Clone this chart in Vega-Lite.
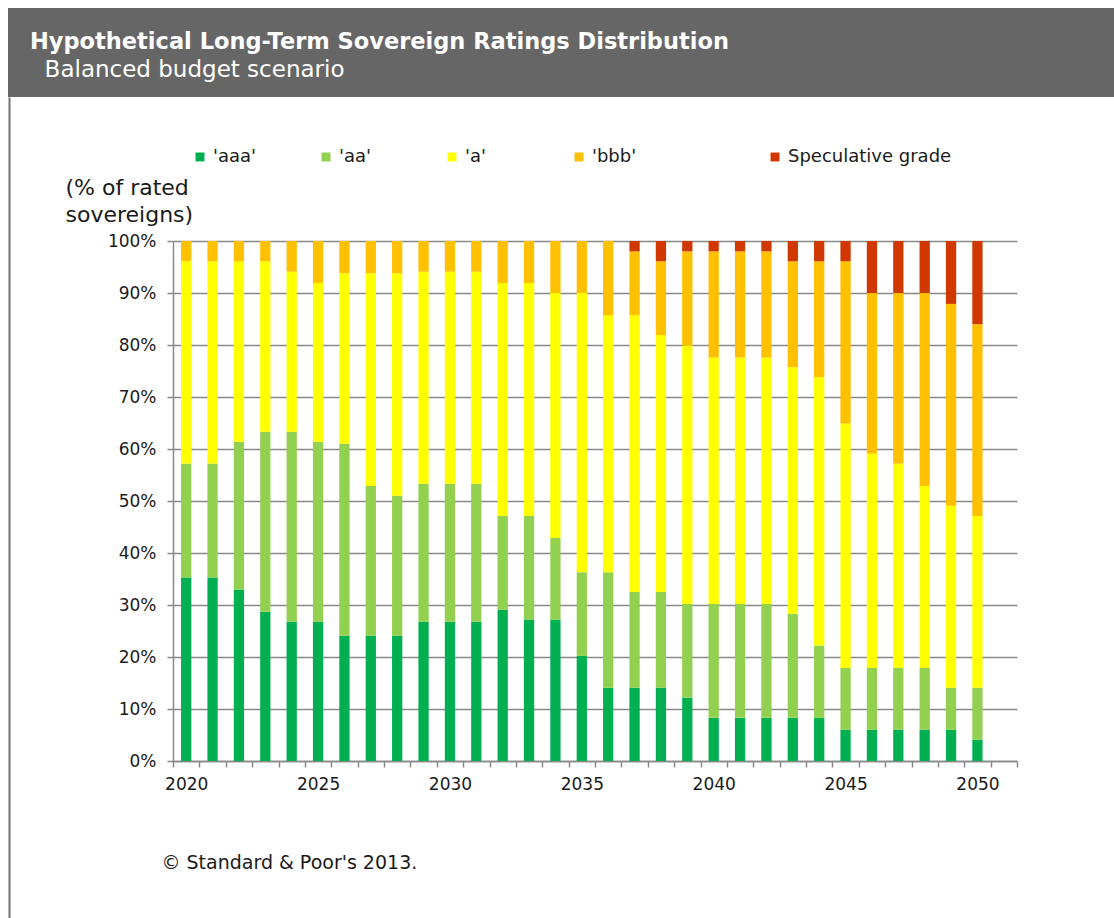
{
 "$schema": "https://vega.github.io/schema/vega-lite/v6.json",
 "padding": {"left": 6, "top": 8, "right": 0, "bottom": 0},
 "background": "white",
 "spacing": 0,
 "config": {"font": "DejaVu Sans", "view": {"stroke": null}},
 "resolve": {"scale": {"color": "independent", "y": "independent"}, "legend": {"color": "independent"}},
 "vconcat": [
  {
   "width": 1106, "height": 89,
   "data": {"values": [{}]},
   "mark": {"type": "rect", "color": "#666666"},
   "encoding": {},
   "title": {
     "text": "Hypothetical Long-Term Sovereign Ratings Distribution",
     "subtitle": "\u200b\u00a0\u00a0Balanced budget scenario",
     "anchor": "start", "frame": "group", "orient": "top",
     "offset": -74, "dx": 22,
     "font": "DejaVu Sans", "fontSize": 22.5, "fontWeight": "bold", "color": "#ffffff",
     "subtitleFont": "DejaVu Sans", "subtitleFontSize": 23, "subtitleColor": "#ffffff", "subtitleFontWeight": "normal", "subtitlePadding": 6
   }
  },
  {
   "spacing": 53,
   "resolve": {"scale": {"color": "independent", "y": "independent"}, "legend": {"color": "independent"}},
   "hconcat": [
    {"width": 2, "height": 821, "data": {"values": [{"frame": 0}]},
     "mark": {"type": "point", "opacity": 0},
     "encoding": {"y": {"field": "frame", "type": "quantitative", "scale": {"domain": [0, 1]},
       "axis": {"title": null, "labels": false, "ticks": false, "grid": false, "domain": true, "domainColor": "#737373", "domainWidth": 2, "position": -144, "offset": -1}}}},
    {
     "width": 844, "height": 520,
     "data": {"values": [
{"year":2020,"rating":"'aaa'","pct":35.3,"rank":1},{"year":2020,"rating":"'aa'","pct":21.9,"rank":2},{"year":2020,"rating":"'a'","pct":38.9,"rank":3},{"year":2020,"rating":"'bbb'","pct":3.9,"rank":4},
{"year":2021,"rating":"'aaa'","pct":35.3,"rank":1},{"year":2021,"rating":"'aa'","pct":21.9,"rank":2},{"year":2021,"rating":"'a'","pct":38.9,"rank":3},{"year":2021,"rating":"'bbb'","pct":3.9,"rank":4},
{"year":2022,"rating":"'aaa'","pct":33.0,"rank":1},{"year":2022,"rating":"'aa'","pct":28.4,"rank":2},{"year":2022,"rating":"'a'","pct":34.7,"rank":3},{"year":2022,"rating":"'bbb'","pct":3.9,"rank":4},
{"year":2023,"rating":"'aaa'","pct":28.7,"rank":1},{"year":2023,"rating":"'aa'","pct":34.6,"rank":2},{"year":2023,"rating":"'a'","pct":32.8,"rank":3},{"year":2023,"rating":"'bbb'","pct":3.9,"rank":4},
{"year":2024,"rating":"'aaa'","pct":26.8,"rank":1},{"year":2024,"rating":"'aa'","pct":36.5,"rank":2},{"year":2024,"rating":"'a'","pct":30.8,"rank":3},{"year":2024,"rating":"'bbb'","pct":5.9,"rank":4},
{"year":2025,"rating":"'aaa'","pct":26.8,"rank":1},{"year":2025,"rating":"'aa'","pct":34.6,"rank":2},{"year":2025,"rating":"'a'","pct":30.5,"rank":3},{"year":2025,"rating":"'bbb'","pct":8.1,"rank":4},
{"year":2026,"rating":"'aaa'","pct":24.1,"rank":1},{"year":2026,"rating":"'aa'","pct":36.9,"rank":2},{"year":2026,"rating":"'a'","pct":32.8,"rank":3},{"year":2026,"rating":"'bbb'","pct":6.2,"rank":4},
{"year":2027,"rating":"'aaa'","pct":24.1,"rank":1},{"year":2027,"rating":"'aa'","pct":28.8,"rank":2},{"year":2027,"rating":"'a'","pct":40.9,"rank":3},{"year":2027,"rating":"'bbb'","pct":6.2,"rank":4},
{"year":2028,"rating":"'aaa'","pct":24.1,"rank":1},{"year":2028,"rating":"'aa'","pct":26.9,"rank":2},{"year":2028,"rating":"'a'","pct":42.8,"rank":3},{"year":2028,"rating":"'bbb'","pct":6.2,"rank":4},
{"year":2029,"rating":"'aaa'","pct":26.8,"rank":1},{"year":2029,"rating":"'aa'","pct":26.5,"rank":2},{"year":2029,"rating":"'a'","pct":40.8,"rank":3},{"year":2029,"rating":"'bbb'","pct":5.9,"rank":4},
{"year":2030,"rating":"'aaa'","pct":26.8,"rank":1},{"year":2030,"rating":"'aa'","pct":26.5,"rank":2},{"year":2030,"rating":"'a'","pct":40.8,"rank":3},{"year":2030,"rating":"'bbb'","pct":5.9,"rank":4},
{"year":2031,"rating":"'aaa'","pct":26.8,"rank":1},{"year":2031,"rating":"'aa'","pct":26.5,"rank":2},{"year":2031,"rating":"'a'","pct":40.8,"rank":3},{"year":2031,"rating":"'bbb'","pct":5.9,"rank":4},
{"year":2032,"rating":"'aaa'","pct":29.1,"rank":1},{"year":2032,"rating":"'aa'","pct":18.0,"rank":2},{"year":2032,"rating":"'a'","pct":44.8,"rank":3},{"year":2032,"rating":"'bbb'","pct":8.1,"rank":4},
{"year":2033,"rating":"'aaa'","pct":27.2,"rank":1},{"year":2033,"rating":"'aa'","pct":19.9,"rank":2},{"year":2033,"rating":"'a'","pct":44.8,"rank":3},{"year":2033,"rating":"'bbb'","pct":8.1,"rank":4},
{"year":2034,"rating":"'aaa'","pct":27.2,"rank":1},{"year":2034,"rating":"'aa'","pct":15.7,"rank":2},{"year":2034,"rating":"'a'","pct":47.1,"rank":3},{"year":2034,"rating":"'bbb'","pct":10.0,"rank":4},
{"year":2035,"rating":"'aaa'","pct":20.2,"rank":1},{"year":2035,"rating":"'aa'","pct":16.1,"rank":2},{"year":2035,"rating":"'a'","pct":53.7,"rank":3},{"year":2035,"rating":"'bbb'","pct":10.0,"rank":4},
{"year":2036,"rating":"'aaa'","pct":14.1,"rank":1},{"year":2036,"rating":"'aa'","pct":22.2,"rank":2},{"year":2036,"rating":"'a'","pct":49.4,"rank":3},{"year":2036,"rating":"'bbb'","pct":14.3,"rank":4},
{"year":2037,"rating":"'aaa'","pct":14.1,"rank":1},{"year":2037,"rating":"'aa'","pct":18.4,"rank":2},{"year":2037,"rating":"'a'","pct":53.2,"rank":3},{"year":2037,"rating":"'bbb'","pct":12.3,"rank":4},{"year":2037,"rating":"Speculative grade","pct":2.0,"rank":5},
{"year":2038,"rating":"'aaa'","pct":14.1,"rank":1},{"year":2038,"rating":"'aa'","pct":18.4,"rank":2},{"year":2038,"rating":"'a'","pct":49.4,"rank":3},{"year":2038,"rating":"'bbb'","pct":14.2,"rank":4},{"year":2038,"rating":"Speculative grade","pct":3.9,"rank":5},
{"year":2039,"rating":"'aaa'","pct":12.2,"rank":1},{"year":2039,"rating":"'aa'","pct":18.0,"rank":2},{"year":2039,"rating":"'a'","pct":49.7,"rank":3},{"year":2039,"rating":"'bbb'","pct":18.1,"rank":4},{"year":2039,"rating":"Speculative grade","pct":2.0,"rank":5},
{"year":2040,"rating":"'aaa'","pct":8.3,"rank":1},{"year":2040,"rating":"'aa'","pct":21.9,"rank":2},{"year":2040,"rating":"'a'","pct":47.4,"rank":3},{"year":2040,"rating":"'bbb'","pct":20.4,"rank":4},{"year":2040,"rating":"Speculative grade","pct":2.0,"rank":5},
{"year":2041,"rating":"'aaa'","pct":8.3,"rank":1},{"year":2041,"rating":"'aa'","pct":21.9,"rank":2},{"year":2041,"rating":"'a'","pct":47.4,"rank":3},{"year":2041,"rating":"'bbb'","pct":20.4,"rank":4},{"year":2041,"rating":"Speculative grade","pct":2.0,"rank":5},
{"year":2042,"rating":"'aaa'","pct":8.3,"rank":1},{"year":2042,"rating":"'aa'","pct":21.9,"rank":2},{"year":2042,"rating":"'a'","pct":47.4,"rank":3},{"year":2042,"rating":"'bbb'","pct":20.4,"rank":4},{"year":2042,"rating":"Speculative grade","pct":2.0,"rank":5},
{"year":2043,"rating":"'aaa'","pct":8.3,"rank":1},{"year":2043,"rating":"'aa'","pct":20.0,"rank":2},{"year":2043,"rating":"'a'","pct":47.4,"rank":3},{"year":2043,"rating":"'bbb'","pct":20.4,"rank":4},{"year":2043,"rating":"Speculative grade","pct":3.9,"rank":5},
{"year":2044,"rating":"'aaa'","pct":8.3,"rank":1},{"year":2044,"rating":"'aa'","pct":13.9,"rank":2},{"year":2044,"rating":"'a'","pct":51.6,"rank":3},{"year":2044,"rating":"'bbb'","pct":22.3,"rank":4},{"year":2044,"rating":"Speculative grade","pct":3.9,"rank":5},
{"year":2045,"rating":"'aaa'","pct":6.0,"rank":1},{"year":2045,"rating":"'aa'","pct":11.9,"rank":2},{"year":2045,"rating":"'a'","pct":47.0,"rank":3},{"year":2045,"rating":"'bbb'","pct":31.2,"rank":4},{"year":2045,"rating":"Speculative grade","pct":3.9,"rank":5},
{"year":2046,"rating":"'aaa'","pct":6.0,"rank":1},{"year":2046,"rating":"'aa'","pct":11.9,"rank":2},{"year":2046,"rating":"'a'","pct":41.2,"rank":3},{"year":2046,"rating":"'bbb'","pct":30.9,"rank":4},{"year":2046,"rating":"Speculative grade","pct":10.0,"rank":5},
{"year":2047,"rating":"'aaa'","pct":6.0,"rank":1},{"year":2047,"rating":"'aa'","pct":11.9,"rank":2},{"year":2047,"rating":"'a'","pct":39.3,"rank":3},{"year":2047,"rating":"'bbb'","pct":32.8,"rank":4},{"year":2047,"rating":"Speculative grade","pct":10.0,"rank":5},
{"year":2048,"rating":"'aaa'","pct":6.0,"rank":1},{"year":2048,"rating":"'aa'","pct":11.9,"rank":2},{"year":2048,"rating":"'a'","pct":35.0,"rank":3},{"year":2048,"rating":"'bbb'","pct":37.1,"rank":4},{"year":2048,"rating":"Speculative grade","pct":10.0,"rank":5},
{"year":2049,"rating":"'aaa'","pct":6.0,"rank":1},{"year":2049,"rating":"'aa'","pct":8.1,"rank":2},{"year":2049,"rating":"'a'","pct":35.0,"rank":3},{"year":2049,"rating":"'bbb'","pct":38.8,"rank":4},{"year":2049,"rating":"Speculative grade","pct":12.1,"rank":5},
{"year":2050,"rating":"'aaa'","pct":4.1,"rank":1},{"year":2050,"rating":"'aa'","pct":10.0,"rank":2},{"year":2050,"rating":"'a'","pct":33.0,"rank":3},{"year":2050,"rating":"'bbb'","pct":36.9,"rank":4},{"year":2050,"rating":"Speculative grade","pct":16.0,"rank":5}
     ]},
     "mark": {"type": "bar", "width": {"band": 0.39}},
     "encoding": {
      "x": {"field": "year", "type": "ordinal",
        "scale": {"domain": [2020,2021,2022,2023,2024,2025,2026,2027,2028,2029,2030,2031,2032,2033,2034,2035,2036,2037,2038,2039,2040,2041,2042,2043,2044,2045,2046,2047,2048,2049,2050,2051], "paddingInner": 0, "paddingOuter": 0},
        "axis": {"title": "© Standard & Poor's 2013.", "titleX": -12, "titleY": 107, "titleAlign": "left", "titleBaseline": "alphabetic", "titleFontSize": 19, "titleFontWeight": "normal", "titleColor": "#1a1a1a",
          "labelExpr": "datum.value % 5 === 0 && datum.value <= 2050 ? datum.label : ''", "labelAngle": 0, "labelFontSize": 17, "labelColor": "#1a1a1a", "labelPadding": 9, "labelOverlap": false,
          "tickBand": "extent", "tickSize": 6, "tickWidth": 1.5, "tickColor": "#888888", "domainColor": "#888888", "domainWidth": 1.5, "grid": false}},
      "y": {"field": "pct", "type": "quantitative", "stack": "zero", "scale": {"domain": [0, 100]},
        "axis": {"title": ["(% of rated", "sovereigns)"], "titleAngle": 0, "titleAlign": "left", "titleBaseline": "top", "titleX": -108, "titleY": -64, "titleLineHeight": 27, "titleFontSize": 22, "titleFontWeight": "normal", "titleColor": "#1a1a1a",
          "values": [0,10,20,30,40,50,60,70,80,90,100], "labelExpr": "datum.value + '%'", "labelFontSize": 17, "labelColor": "#1a1a1a", "labelPadding": 11,
          "tickSize": 6, "tickWidth": 1.5, "tickColor": "#888888", "domainColor": "#888888", "domainWidth": 1.5, "grid": true, "gridColor": "#888888", "gridWidth": 1.5}},
      "color": {"field": "rating", "type": "nominal",
        "scale": {"domain": ["'aaa'", "'aa'", "'a'", "'bbb'", "Speculative grade"], "range": ["#00b050", "#92d050", "#ffff00", "#ffc000", "#d03800"]},
        "legend": {"orient": "none", "legendX": -33, "legendY": -144, "padding": 51, "direction": "horizontal", "title": null,
          "symbolType": "square", "symbolSize": 80, "symbolStrokeWidth": 0, "labelFontSize": 18, "labelColor": "#1a1a1a", "labelOffset": 4, "columnPadding": 3, "labelLimit": 400,
          "labelExpr": "datum.label + pad('', datum.value === \"'aaa'\" ? 10 : datum.value === \"'aa'\" ? 12 : datum.value === \"'a'\" ? 14 : datum.value === \"'bbb'\" ? 22 : 0, '\u00a0') + '\u200b'"}},
      "order": {"field": "rank", "type": "quantitative"}
     }
    }
   ]
  }
 ]
}
